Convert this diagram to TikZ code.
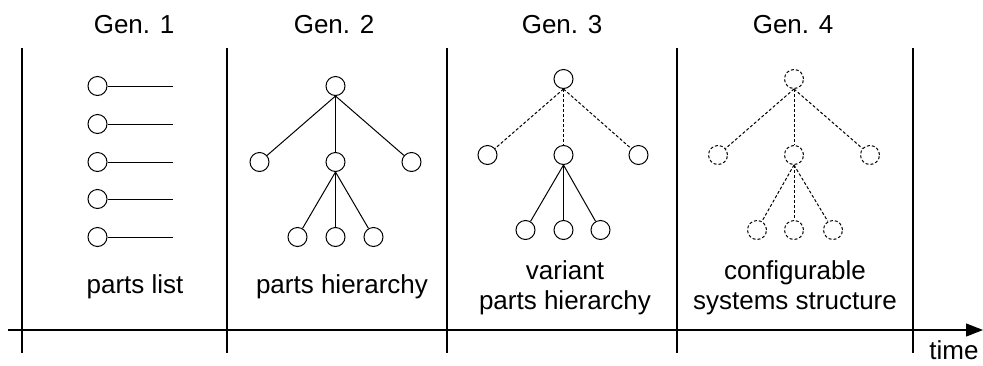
\documentclass[tikz,border=0pt]{standalone}
\usepackage{fontspec}
\setmainfont{Liberation Sans}
\usetikzlibrary{arrows.meta}
\begin{document}
\begin{tikzpicture}[x=1pt,y=-1pt,
  lbl/.style={font=\fontsize{26}{29.5}\selectfont, inner sep=0pt, align=center},
  part/.style={circle, draw, line width=1pt, minimum size=19pt, inner sep=0pt},
  vpart/.style={part, dash pattern=on 3pt off 2pt},
  edge/.style={line width=1pt},
  vedge/.style={line width=1pt, dash pattern=on 3pt off 2pt},
  sep/.style={line width=2.2pt}]
\useasboundingbox (0,0) rectangle (983,365);
% time axis
\coordinate (a0) at (8,330);
\coordinate (a1) at (983,330);
\draw[line width=1.3pt, -{Triangle[length=17pt,width=13pt]}] (a0) -- (a1);
\node[lbl, anchor=base] (time) at (954,359) {time};
% separators
\foreach \i/\x in {0/22,1/227,2/447,3/677,4/913}{
  \coordinate (s\i t) at (\x,48);
  \coordinate (s\i b) at (\x,353);
  \draw[sep] (s\i t) -- (s\i b);
}
% headings
\node[lbl, anchor=base] (g1) at (134,33) {Gen. 1};
\node[lbl, anchor=base] (g2) at (334,33) {Gen. 2};
\node[lbl, anchor=base] (g3) at (562,33) {Gen. 3};
\node[lbl, anchor=base] (g4) at (793,33) {Gen. 4};
% Gen 1: parts list
\foreach \j/\y in {1/86,2/124,3/162,4/199,5/237}{
  \node[part] (p\j) at (97.5,\y) {};
  \coordinate (e\j) at (173,\y);
  \draw[edge] (p\j) -- (e\j);
}
\node[lbl, anchor=base] (l1) at (135,293) {parts list};
% Gen 2: parts hierarchy
\node[part] (b0) at (335.5,86) {};
\node[part] (b1) at (259.5,162) {};
\node[part] (b2) at (335.5,162) {};
\node[part] (b3) at (411.5,162) {};
\node[part] (b4) at (297.5,237) {};
\node[part] (b5) at (335.5,237) {};
\node[part] (b6) at (373.5,237) {};
\draw[edge] (b0.south) -- (b1);
\draw[edge] (b0.south) -- (b2);
\draw[edge] (b0.south) -- (b3);
\draw[edge] (b2.south) -- (b4);
\draw[edge] (b2.south) -- (b5);
\draw[edge] (b2.south) -- (b6);
\node[lbl, anchor=base] (l2) at (342,293) {parts hierarchy};
% Gen 3: variant parts hierarchy
\node[part] (c0) at (563.5,79) {};
\node[part] (c1) at (487.5,155) {};
\node[part] (c2) at (563.5,155) {};
\node[part] (c3) at (638.5,155) {};
\node[part] (c4) at (525.5,230) {};
\node[part] (c5) at (563.5,230) {};
\node[part] (c6) at (600.5,230) {};
\draw[vedge] (c0.south) -- (c1);
\draw[vedge] (c0.south) -- (c2);
\draw[vedge] (c0.south) -- (c3);
\draw[edge] (c2.south) -- (c4);
\draw[edge] (c2.south) -- (c5);
\draw[edge] (c2.south) -- (c6);
\node[lbl, anchor=center] (l3) at (565,288) {variant\\parts hierarchy};
% Gen 4: configurable systems structure
\node[vpart] (d0) at (794,79) {};
\node[vpart] (d1) at (718,155) {};
\node[vpart] (d2) at (794,155) {};
\node[vpart] (d3) at (870,155) {};
\node[vpart] (d4) at (757,230) {};
\node[vpart] (d5) at (794,230) {};
\node[vpart] (d6) at (833,230) {};
\draw[vedge] (d0.south) -- (d1);
\draw[vedge] (d0.south) -- (d2);
\draw[vedge] (d0.south) -- (d3);
\draw[vedge] (d2.south) -- (d4);
\draw[vedge] (d2.south) -- (d5);
\draw[vedge] (d2.south) -- (d6);
\node[lbl, anchor=center] (l4) at (795,288) {configurable\\systems structure};
\end{tikzpicture}
\end{document}
